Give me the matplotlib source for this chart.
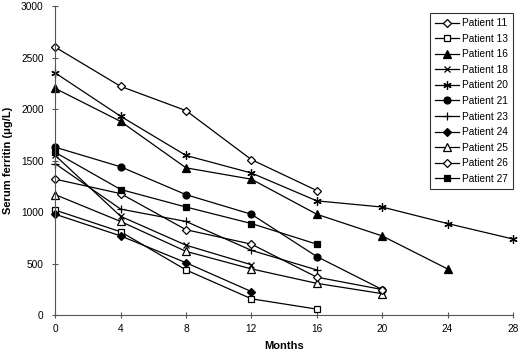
import numpy as np
import matplotlib
matplotlib.use('Agg')
import matplotlib.pyplot as plt

plt.rcParams['font.family'] = ['Liberation Sans', 'DejaVu Sans']

# Serum ferritin (ug/L) per patient, measured every 4 months
months = [0, 4, 8, 12, 16, 20, 24, 28]

p11 = [2600, 2220, 1985, 1510, 1210]
p13 = [1020, 810, 440, 160, 60]
p16 = [2200, 1880, 1430, 1320, 980, 770, 450]
p18 = [1550, 960, 680, 490]
p20 = [2350, 1930, 1550, 1380, 1110, 1050, 890, 740]
p21 = [1630, 1440, 1170, 980, 570, 250]
p23 = [1470, 1030, 910, 630, 440]
p24 = [980, 770, 510, 230]
p25 = [1170, 910, 620, 450, 310, 210]
p26 = [1320, 1180, 830, 690, 370, 250]
p27 = [1580, 1220, 1050, 890, 690]

labels = ['Patient 11', 'Patient 13', 'Patient 16', 'Patient 18', 'Patient 20',
          'Patient 21', 'Patient 23', 'Patient 24', 'Patient 25', 'Patient 26',
          'Patient 27']
series = [p11, p13, p16, p18, p20, p21, p23, p24, p25, p26, p27]

# marker, face colour, size
styles = [
    ('D', 'white', 4),
    ('s', 'white', 5),
    ('^', 'black', 5.5),
    ('x', 'black', 5),
    ((6, 2, 0), 'black', 6),
    ('o', 'black', 5),
    ('+', 'black', 6),
    ('D', 'black', 4),
    ('^', 'white', 5.5),
    ('D', 'white', 4),
    ('s', 'black', 5),
]

fig = plt.figure(figsize=(5.2, 3.56), dpi=100)
ax = fig.add_axes([0.1063, 0.1143, 0.880, 0.869])

for vals, lab, (mk, fc, ms) in zip(series, labels, styles):
    ax.plot(months[:len(vals)], vals, color='black', lw=0.9,
            marker=mk, markerfacecolor=fc, markeredgecolor='black',
            markeredgewidth=0.9, markersize=ms, label=lab, clip_on=False)

ax.set_xlim(0, 28)
ax.set_ylim(0, 3000)
ax.set_xticks(range(0, 29, 4))
ax.set_yticks(range(0, 3001, 500))
ax.tick_params(direction='inout', length=5, width=0.8, color='#555555',
               labelsize=7.3)
ax.tick_params(axis='y', pad=6)
ax.tick_params(axis='x', pad=4)
for s in ['top', 'right']:
    ax.spines[s].set_visible(False)
for s in ['left', 'bottom']:
    ax.spines[s].set_color('#555555')
    ax.spines[s].set_linewidth(0.8)

ax.set_xlabel('Months', fontsize=8, fontweight='bold', labelpad=5)
ax.set_ylabel('Serum ferritin (\u03bcg/L)', fontsize=8, fontweight='bold', labelpad=6)

leg = ax.legend(loc='upper right', bbox_to_anchor=(1.0, 0.977), fontsize=7.3,
                frameon=True, fancybox=False, edgecolor='black',
                handlelength=2.3, handletextpad=0.3, labelspacing=0.55,
                borderpad=0.5, borderaxespad=0)
leg.get_frame().set_linewidth(0.8)

fig.savefig('out.png', dpi=100)
